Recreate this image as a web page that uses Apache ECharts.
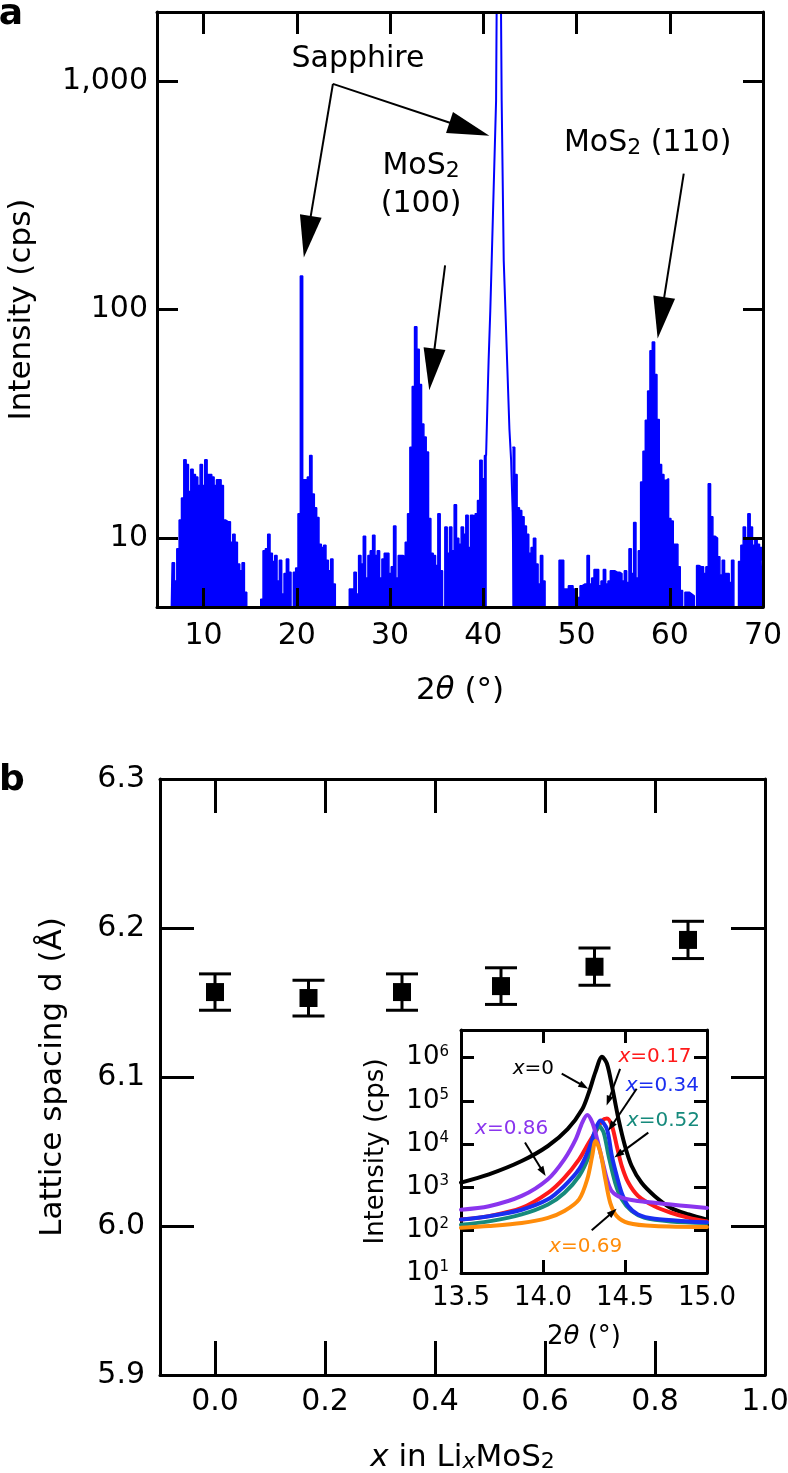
<!DOCTYPE html>
<html><head><meta charset="utf-8">
<script src="https://cdn.jsdelivr.net/npm/echarts@6.0.0/dist/echarts.min.js"></script>
<style>html,body{margin:0;padding:0;background:#fff}#c{width:788px;height:1473px}</style>
</head><body><div id="c"></div>
<script>
// ================= DATA =================
// Panel a: XRD scan (2theta, counts per second), uniform 0.25 deg sampling
const twoThetaStart = 6.5;
const twoThetaStep = 0.25;
const intensityCps = [
  4, 7.8,
  6.5, 9.0, 12, 15,
  22, 21, 16, 20,
  19, 18.5, 17, 21,
  17, 22, 19, 19,
  18.5, 17, 18, 18,
  17, 12, 11.8, 11.8,
  9.6, 10.4, 9.6, 7.7,
  7.2, 7.8, 5.8, 4,
  4, 4, 4, 4,
  4, 5.4, 8.8, 9.0,
  10.4, 8.6, 7.9, 8.4,
  6.5, 8.0, 5.7, 7.0,
  8.1, 7.1, 4, 7.1,
  7.4, 12.8, 140, 18,
  18, 18.5, 23, 15.6,
  13.6, 12.3, 9.4, 9.1,
  9.3, 8.0, 7.2, 8.1,
  6.3, 4, 4, 4,
  4, 4, 4, 6.0,
  6.0, 7.1, 5.7, 8.4,
  7.7, 10.2, 6.7, 8.4,
  8.8, 10.3, 8.4, 8.8,
  6.7, 8.1, 8.6, 8.6,
  7.0, 7.5, 11.3, 6.7,
  8.4, 8.4, 8.3, 9.6,
  12.8, 25, 46, 84,
  67, 47, 31.6, 27.7,
  23.8, 12.2, 8.6, 8.4,
  7.6, 12.8, 7.2, 4,
  11.2, 8.6, 11.2, 8.8,
  14, 10, 9.4, 11.2,
  10.4, 12.6, 9.1, 12.6,
  12.4, 12.8, 14.6, 21.9,
  18.2, 23, null, null,
  null, null, null, null,
  null, null, null, null,
  null, 25, 19, 13.6,
  13.2, 12.4, 11.3, 10.4,
  8.6, 9.1, 10, 7.7,
  6.3, 8.4, 6.5, 4,
  4, 4, 4, 4,
  4, 8, 8, 6,
  6, 6.2, 6.2, 6.0,
  5.5, 5.5, 6.2, 6.3,
  6.3, 8.4, 6.3, 6.7,
  7.3, 7.3, 6.2, 6.5,
  7.3, 6.3, 6.5, 7.2,
  7.2, 7.1, 7.1, 7.0,
  6.5, 7.2, 6.4, 9.0,
  7.0, 11.7, 6.7, 8.8,
  17.6, 24, 32.8, 44,
  66, 72, 52, 33,
  21, 19, 17.9, 18.2,
  12.2, 11.9, 9.4, 9.4,
  7.5, 5.9, 4, 5.8,
  5.8, 5.7, 5.6, 4,
  7.6, 7.5, 7.5, 7.0,
  7.5, 17.3, 12.4, 10.2,
  10, 8.3, 6.9, 8.0,
  7.0, 7.0, 6.4, 8.0,
  4, 4, 7.9, 9.3,
  11.2, 9.9, 12.8, 11.2,
  9.3, 9.9, 9.4, 9.1,
  8
];
// Sapphire (006) reflection drawn as an outline
const sapphireAngles = [40.3, 40.47, 40.57, 40.75, 40.9, 41.37, 41.43, 41.67, 41.9, 41.97, 42.19, 42.37, 42.55, 42.8, 42.98, 43.15, 43.26];
const sapphireCps    = [23, 43, 60, 99, 164, 818, 2000, 100000, 2000, 818, 164, 100, 60, 30, 22, 13, 5];
const xTicksA = [10, 20, 30, 40, 50, 60, 70];

// Panel b: lattice spacing vs Li content
const liContent = [0, 0.17, 0.34, 0.52, 0.69, 0.86];
const latticeD = [6.157, 6.153, 6.157, 6.161, 6.174, 6.192];
const latticeErr = [0.0122, 0.012, 0.0122, 0.0123, 0.0125, 0.0125];
const xTicksB = [0, 0.2, 0.4, 0.6, 0.8, 1.0];
const yTicksB = [5.9, 6.0, 6.1, 6.2, 6.3];

// Inset: (002) peak for each x
const insetNames = ['x=0', 'x=0.17', 'x=0.52', 'x=0.34', 'x=0.86', 'x=0.69'];
const insetColors = ['#000000', '#ff1a1a', '#168a7c', '#1a2ef0', '#8a35ee', '#ff8c0a'];
const peakX0 = [[13.5,1260],[13.67,1950],[13.87,3980],[14.03,8900],[14.15,21900],[14.24,64600],[14.28,158000],[14.32,468000],[14.36,1050000],[14.39,724000],[14.42,224000],[14.46,38000],[14.5,8900],[14.54,3090],[14.6,1260],[14.68,617],[14.78,324],[14.89,229],[15.0,174]];
const peakX017 = [[13.5,174],[13.67,209],[13.87,324],[14.03,724],[14.13,1620],[14.22,4370],[14.28,10700],[14.33,21900],[14.36,34700],[14.39,38900],[14.42,26300],[14.45,8910],[14.48,3090],[14.52,1260],[14.58,617],[14.68,355],[14.78,251],[14.89,191],[15.0,158]];
const peakX034 = [[13.5,174],[13.67,209],[13.87,295],[14.03,513],[14.13,1050],[14.22,2570],[14.28,7590],[14.32,21900],[14.35,34700],[14.39,21900],[14.42,5250],[14.45,1780],[14.48,724],[14.52,355],[14.58,229],[14.68,182],[14.89,158],[15.0,151]];
const peakX052 = [[13.5,132],[13.67,158],[13.87,229],[14.03,389],[14.13,724],[14.22,1780],[14.28,5250],[14.32,18200],[14.34,26300],[14.37,18200],[14.4,5250],[14.44,1260],[14.48,513],[14.54,275],[14.62,191],[14.78,158],[15.0,145]];
const peakX069 = [[13.5,112],[13.67,123],[13.87,145],[14.03,191],[14.13,275],[14.22,513],[14.27,1510],[14.3,5250],[14.32,11700],[14.35,6310],[14.38,1510],[14.41,427],[14.45,209],[14.52,145],[14.68,123],[15.0,117]];
const peakX086 = [[13.5,295],[13.67,355],[13.87,617],[14.03,1510],[14.13,4370],[14.2,12900],[14.24,31600],[14.27,46800],[14.3,31600],[14.33,12900],[14.36,4370],[14.39,1510],[14.42,794],[14.48,562],[14.58,468],[14.68,427],[14.78,389],[14.89,355],[15.0,324]];
const insetCurves = [peakX0, peakX017, peakX052, peakX034, peakX086, peakX069];

// ================= CHART =================
const FONT = 'DejaVu Sans';
const K = '#000';
const chart = echarts.init(document.getElementById('c'), null, {renderer: 'canvas', width: 788, height: 1473});

const spectrum = intensityCps.map((v, i) => [twoThetaStart + i * twoThetaStep, v]);
const sapphire = sapphireAngles.map((a, i) => [a, sapphireCps[i]]);

function frameAxis(o) {
  const base = {
    type: 'value', splitLine: {show: false}, z: 5,
    axisLine: {show: true, onZero: false, lineStyle: {color: K, width: 3}},
    axisTick: {show: true, inside: true, length: 20, lineStyle: {color: K, width: 3}},
    axisLabel: {show: false}
  };
  const r = Object.assign({}, base, o);
  r.axisTick = Object.assign({}, base.axisTick, o.axisTick || {});
  r.axisLabel = Object.assign({}, base.axisLabel, o.axisLabel || {});
  return r;
}
const lbl = (size, extra) => Object.assign({show: true, color: K, fontSize: size, fontFamily: FONT}, extra || {});
const nameStyle = (size, rich) => ({color: K, fontSize: size, fontFamily: FONT, rich: rich || {}});

const supRich = {
  b: {fontSize: 26, lineHeight: 27, fontFamily: FONT, color: K},
  s: {fontSize: 15, lineHeight: 11, fontFamily: FONT, color: K, verticalAlign: 'top'}
};

const option = {
  animation: false,
  backgroundColor: '#fff',
  grid: [
    {left: 157, top: 12, width: 606, height: 595, containLabel: false, outerBoundsMode: 'none'},
    {left: 160, top: 779, width: 605, height: 596, containLabel: false, outerBoundsMode: 'none'},
    {left: 461, top: 1030, width: 246, height: 243, containLabel: false, outerBoundsMode: 'none'}
  ],
  xAxis: [
    frameAxis({gridIndex: 0, position: 'bottom', min: 5, max: 70,
      axisTick: {length: 19, customValues: xTicksA},
      axisLabel: lbl(30, {margin: 14, customValues: xTicksA}),
      name: '2{i|θ} (°)', nameLocation: 'middle', nameGap: 68,
      nameTextStyle: nameStyle(31, {i: {fontStyle: 'italic', fontSize: 31, fontFamily: FONT, color: K}})}),
    frameAxis({gridIndex: 0, position: 'top', min: 5, max: 70,
      axisTick: {length: 22, customValues: xTicksA}}),
    frameAxis({gridIndex: 1, position: 'bottom', min: -0.1, max: 1.0,
      axisTick: {length: 34, customValues: xTicksB},
      axisLabel: lbl(30, {margin: 12, customValues: xTicksB, formatter: v => Number(v).toFixed(1)}),
      name: '{i|x} in Li{si|x}MoS{s|2}', nameLocation: 'middle', nameGap: 67,
      nameTextStyle: nameStyle(31, {
        i: {fontStyle: 'italic', fontSize: 31, fontFamily: FONT, color: K},
        si: {fontStyle: 'italic', fontSize: 22, lineHeight: 16, verticalAlign: 'bottom', fontFamily: FONT, color: K},
        s: {fontSize: 22, lineHeight: 16, verticalAlign: 'bottom', fontFamily: FONT, color: K}
      })}),
    frameAxis({gridIndex: 1, position: 'top', min: -0.1, max: 1.0,
      axisTick: {length: 34, customValues: xTicksB}}),
    frameAxis({gridIndex: 2, position: 'bottom', min: 13.5, max: 15.0, interval: 0.5,
      axisTick: {length: 13},
      axisLabel: lbl(26, {margin: 12, formatter: v => Number(v).toFixed(1)}),
      name: '2{i|θ} (°)', nameLocation: 'middle', nameGap: 51,
      nameTextStyle: nameStyle(26, {i: {fontStyle: 'italic', fontSize: 26, fontFamily: FONT, color: K}})}),
    frameAxis({gridIndex: 2, position: 'top', min: 13.5, max: 15.0, interval: 0.5,
      axisTick: {length: 13}})
  ],
  yAxis: [
    frameAxis({gridIndex: 0, type: 'log', logBase: 10, position: 'left', min: 5, max: 2000,
      axisTick: {length: 21},
      axisLabel: lbl(30, {margin: 9, showMinLabel: false, showMaxLabel: false,
        formatter: v => Math.round(v).toLocaleString('en-US')}),
      name: 'Intensity (cps)', nameLocation: 'middle', nameGap: 120, nameRotate: 90,
      nameTextStyle: nameStyle(31)}),
    frameAxis({gridIndex: 0, type: 'log', logBase: 10, position: 'right', min: 5, max: 2000,
      axisTick: {length: 20}}),
    frameAxis({gridIndex: 1, position: 'left', min: 5.9, max: 6.3,
      axisTick: {length: 34, customValues: yTicksB},
      axisLabel: lbl(30, {margin: 15, customValues: yTicksB, formatter: v => Number(v).toFixed(1)}),
      name: 'Lattice spacing d (Å)', nameLocation: 'middle', nameGap: 92, nameRotate: 90,
      nameTextStyle: nameStyle(31)}),
    frameAxis({gridIndex: 1, position: 'right', min: 5.9, max: 6.3,
      axisTick: {length: 34, customValues: yTicksB}}),
    frameAxis({gridIndex: 2, type: 'log', logBase: 10, position: 'left', min: 10, max: 4.4e6,
      axisTick: {length: 13},
      axisLabel: lbl(26, {margin: 12, showMaxLabel: false, rich: supRich,
        formatter: v => '{b|10}{s|' + Math.round(Math.log10(v)) + '}'}),
      name: 'Intensity (cps)', nameLocation: 'middle', nameGap: 72, nameRotate: 90,
      nameTextStyle: nameStyle(26)}),
    frameAxis({gridIndex: 2, type: 'log', logBase: 10, position: 'right', min: 10, max: 4.4e6,
      axisTick: {length: 13}})
  ],
  series: [
    {type: 'line', xAxisIndex: 0, yAxisIndex: 0, data: spectrum, step: 'middle', showSymbol: false,
     clip: true, connectNulls: false, z: 2,
     lineStyle: {color: '#0000ff', width: 1.5}, itemStyle: {color: '#0000ff'},
     areaStyle: {color: '#0000ff', opacity: 1, origin: 'start'}},
    {type: 'line', xAxisIndex: 0, yAxisIndex: 0, data: sapphire, showSymbol: false, clip: true, z: 2,
     lineStyle: {color: '#0000ff', width: 2}, itemStyle: {color: '#0000ff'}},
    {type: 'custom', xAxisIndex: 2, yAxisIndex: 2, z: 3,
     data: liContent.map((x, i) => [x, latticeD[i] - latticeErr[i], latticeD[i] + latticeErr[i]]),
     encode: {x: 0, y: [1, 2]},
     renderItem: (params, api) => {
       const x = api.value(0);
       const lo = api.coord([x, api.value(1)]);
       const hi = api.coord([x, api.value(2)]);
       const hw = 16;
       const st = {stroke: K, lineWidth: 3, fill: null};
       return {type: 'group', children: [
         {type: 'line', shape: {x1: lo[0], y1: lo[1], x2: hi[0], y2: hi[1]}, style: st},
         {type: 'line', shape: {x1: lo[0] - hw, y1: lo[1], x2: lo[0] + hw, y2: lo[1]}, style: st},
         {type: 'line', shape: {x1: hi[0] - hw, y1: hi[1], x2: hi[0] + hw, y2: hi[1]}, style: st}
       ]};
     }},
    {type: 'scatter', xAxisIndex: 2, yAxisIndex: 2, z: 4, symbol: 'rect', symbolSize: 18,
     itemStyle: {color: K, opacity: 1},
     data: liContent.map((x, i) => [x, latticeD[i]])}
  ].concat(insetCurves.map((c, i) => ({
    type: 'line', name: insetNames[i], xAxisIndex: 4, yAxisIndex: 4, data: c, showSymbol: false,
    smooth: 0.3, clip: true, z: 6,
    lineStyle: {color: insetColors[i], width: 4, join: 'round', cap: 'round'}, itemStyle: {color: insetColors[i]}
  })))
};
chart.setOption(option);

// ================= ANNOTATIONS =================
const annotA = [
  {text: 'Sapphire', at: [26.56, 1247]},
  {text: 'MoS{s|2}', at: [33.33, 425]},
  {text: '(100)', at: [33.33, 290]},
  {text: 'MoS{s|2} (110)', at: [57.63, 531]}
];
const arrowsA = [
  {from: [23.87, 970], to: [20.75, 169]},
  {from: [23.87, 970], to: [40.65, 575]},
  {from: [35.9, 156], to: [34.2, 44.3]},
  {from: [61.5, 393], to: [58.7, 74.6]}
];
const insetLabelText = [
  {text: '{i|x}=0', at: [13.941, 550000], color: '#000000'},
  {text: '{i|x}=0.17', at: [14.683, 1040000], color: '#ff1a1a'},
  {text: '{i|x}=0.34', at: [14.728, 224000], color: '#1a2ef0'},
  {text: '{i|x}=0.52', at: [14.734, 34700], color: '#168a7c'},
  {text: '{i|x}=0.86', at: [13.809, 21900], color: '#8a35ee'},
  {text: '{i|x}=0.69', at: [14.26, 41.7], color: '#ff8c0a'}
];
const arrowsInset = [
  {from: [14.114, 427000], to: [14.276, 191000]},
  {from: [14.47, 550000], to: [14.388, 77600]},
  {from: [14.571, 190000], to: [14.398, 20000]},
  {from: [14.642, 18200], to: [14.435, 4790]},
  {from: [13.89, 10700], to: [14.016, 1780]},
  {from: [14.297, 98], to: [14.449, 309]}
];

const pA = d => chart.convertToPixel({xAxisIndex: 0, yAxisIndex: 0}, d);
const pI = d => chart.convertToPixel({xAxisIndex: 4, yAxisIndex: 4}, d);

function arrow(p0, p1, headLen, headW, lw, z) {
  const dx = p1[0] - p0[0], dy = p1[1] - p0[1];
  const L = Math.hypot(dx, dy), ux = dx / L, uy = dy / L, nx = -uy, ny = ux;
  const bx = p1[0] - ux * headLen, by = p1[1] - uy * headLen;
  return [
    {type: 'line', z: z, shape: {x1: p0[0], y1: p0[1], x2: bx + ux * 2, y2: by + uy * 2}, style: {stroke: K, lineWidth: lw}},
    {type: 'polygon', z: z, shape: {points: [[p1[0], p1[1]], [bx + nx * headW / 2, by + ny * headW / 2], [bx - nx * headW / 2, by - ny * headW / 2]]}, style: {fill: K}}
  ];
}

const richA = {s: {fontSize: 22, lineHeight: 14, verticalAlign: 'bottom', fontFamily: FONT, fill: K}};
const g = [];
// white backing behind inset (covers lower part of bottom ticks, as in the original)
g.push({type: 'rect', z: 1, shape: {x: 355, y: 1026, width: 358, height: 325}, style: {fill: '#fff'}});
annotA.forEach(a => {
  const p = pA(a.at);
  g.push({type: 'text', z: 10, x: p[0], y: p[1], style: {text: a.text, fill: K, fontSize: 30, fontFamily: FONT,
    lineHeight: 32, align: 'center', verticalAlign: 'middle', rich: richA}});
});
arrowsA.forEach(a => arrow(pA(a.from), pA(a.to), 42, 22, 2, 10).forEach(e => g.push(e)));
insetLabelText.forEach(a => {
  const p = pI(a.at);
  g.push({type: 'text', z: 10, x: p[0], y: p[1], style: {text: a.text, fill: a.color, fontSize: 20, fontFamily: FONT,
    align: 'center', verticalAlign: 'middle',
    rich: {i: {fontStyle: 'italic', fontSize: 20, fontFamily: FONT, fill: a.color}}}});
});
arrowsInset.forEach(a => arrow(pI(a.from), pI(a.to), 10, 7, 2, 10).forEach(e => g.push(e)));
g.push({type: 'text', z: 10, x: 11, y: 15, style: {text: 'a', fill: K, font: 'bold 36px "DejaVu Sans"', align: 'center', verticalAlign: 'middle'}});
g.push({type: 'text', z: 10, x: 12, y: 781, style: {text: 'b', fill: K, font: 'bold 36px "DejaVu Sans"', align: 'center', verticalAlign: 'middle'}});

chart.setOption({graphic: {elements: g}});
</script></body></html>
